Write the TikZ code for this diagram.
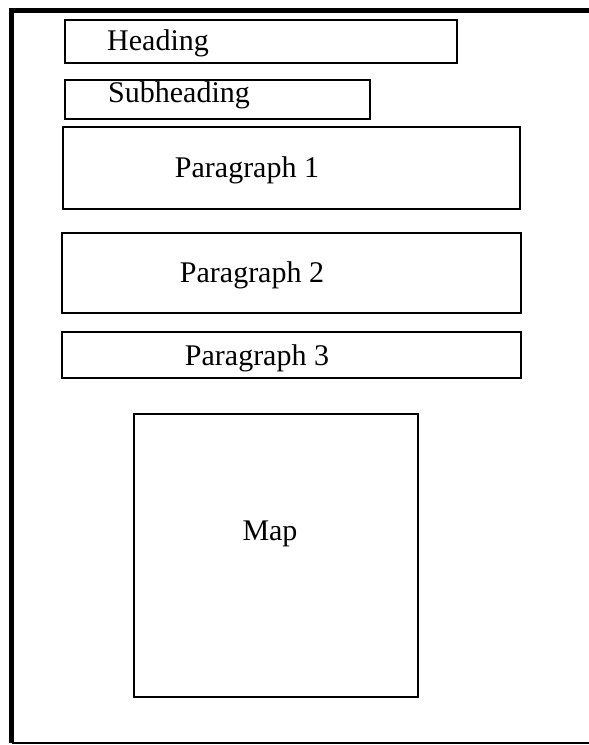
\documentclass[tikz,border=0pt]{standalone}
\usepackage{fontspec}
\setmainfont{Liberation Serif}
\begin{document}
\begin{tikzpicture}[x=1pt,y=-1pt,
  block/.style={draw=black,line width=2.6pt},
  lbl/.style={inner sep=0pt,font=\fontsize{30}{32}\selectfont}]
\useasboundingbox[fill=white] (0,0) rectangle (589,745);
% page frame: heavy top and left edges, thin bottom edge, open on the right
\draw[line width=5pt] (589,10) -- (11.5,10) -- (11.5,743);
\draw[line width=2pt] (11.5,743) -- (589,743);
% layout blocks
\draw[block] (65,20) rectangle (457,63);
\draw[block] (65,80) rectangle (370,119);
\draw[block] (63,127) rectangle (520,209);
\draw[block] (62,233) rectangle (521,313);
\draw[block] (62,332) rectangle (521,378);
\draw[block] (134,414) rectangle (418,697);
% labels
\node[lbl,anchor=base west] (heading) at (107,50) {Heading};
\node[lbl,anchor=base west] (subheading) at (108,102) {Subheading};
\node[lbl,anchor=base] (p1) at (247,177) {Paragraph 1};
\node[lbl,anchor=base] (p2) at (252,282) {Paragraph 2};
\node[lbl,anchor=base] (p3) at (257,365) {Paragraph 3};
\node[lbl,anchor=base] (map) at (270,540) {Map};
\end{tikzpicture}
\end{document}
